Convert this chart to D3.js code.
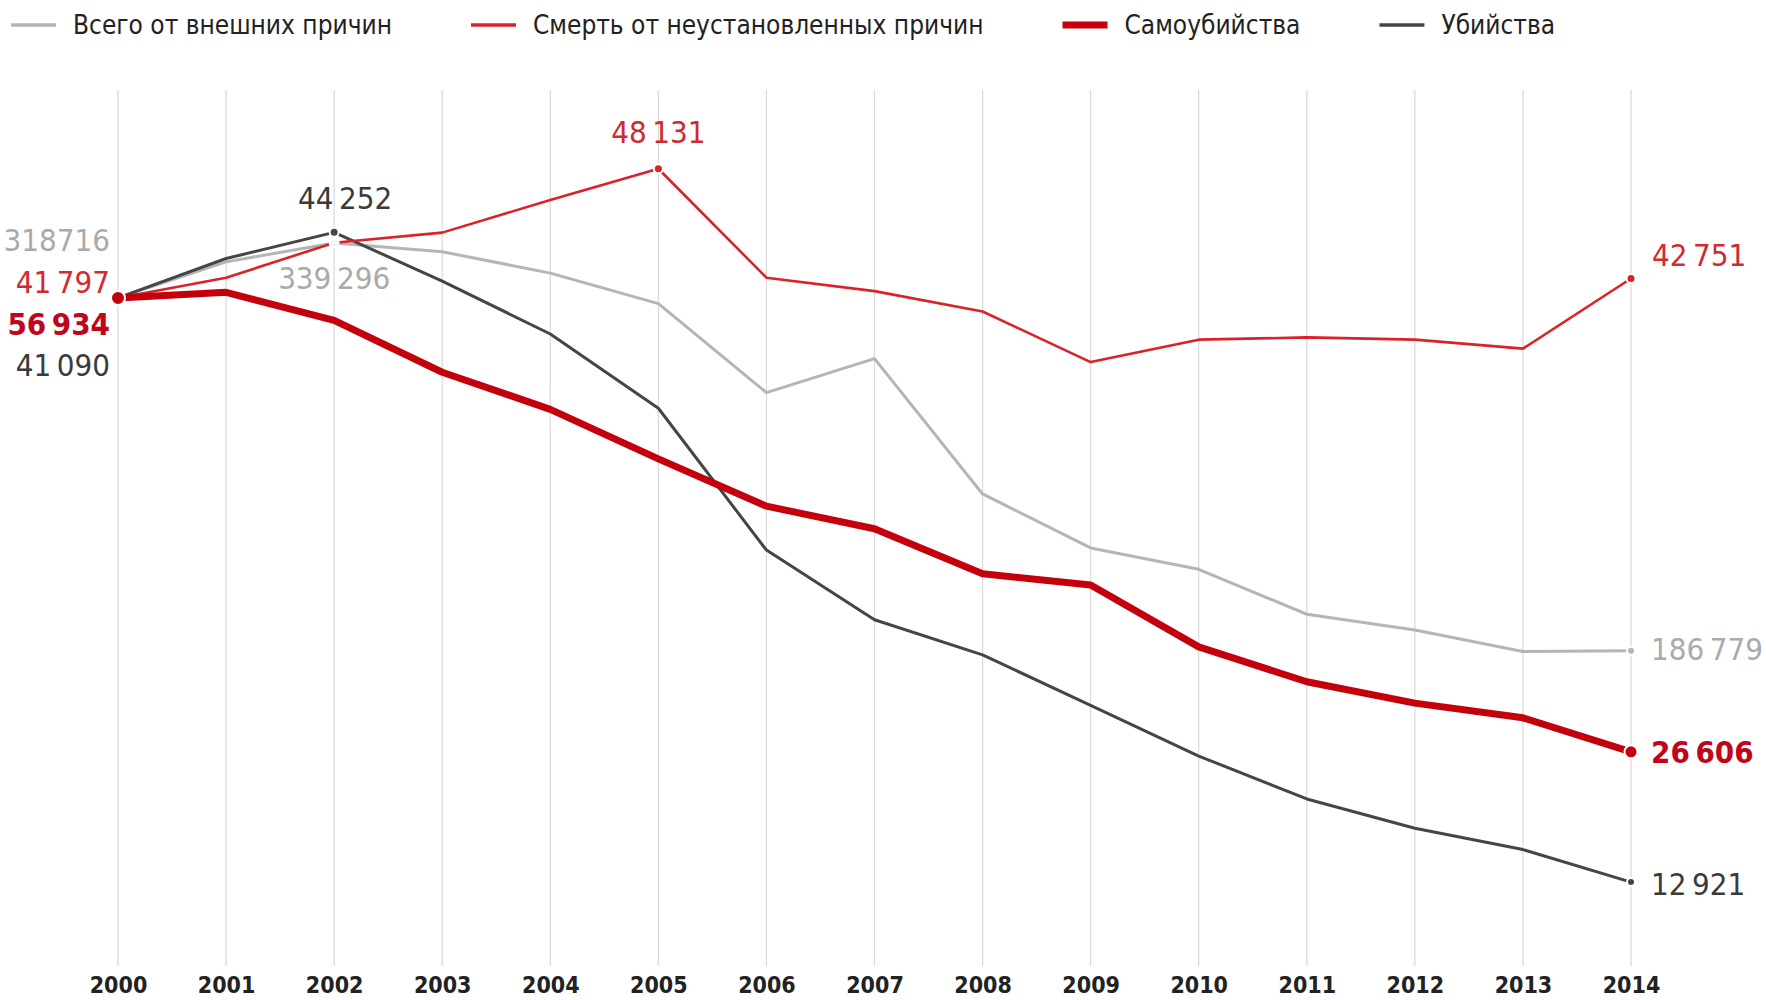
<!DOCTYPE html>
<html>
<head>
<meta charset="utf-8">
<script src="https://cdn.jsdelivr.net/npm/d3@7"></script>
<style>
  body { margin: 0; background: #fff; }
  svg text { font-family: "Liberation Sans Narrow", "DejaVu Sans Condensed", "Roboto", sans-serif; }
</style>
</head>
<body>
<div id="chart"></div>
<script>
// years on the x axis
var years = [2000, 2001, 2002, 2003, 2004, 2005, 2006, 2007, 2008, 2009, 2010, 2011, 2012, 2013, 2014];

// deaths per year (labelled points are exact)
var totalExternal = [318716, 332200, 339296, 336000, 328000, 316600, 283300, 296000, 245400, 225200, 217200, 200400, 194500, 186500, 186779];
var unknownCauses = [41797, 42790, 44500, 45000, 46600, 48131, 42790, 42130, 41130, 38650, 39750, 39860, 39750, 39310, 42751];
var suicides = [56934, 57310, 55430, 51970, 49490, 46180, 43020, 41510, 38510, 37750, 33620, 31290, 29860, 28880, 26606];
var murders = [41090, 42990, 44252, 41900, 39350, 35770, 28930, 25570, 23880, 21440, 19000, 16930, 15520, 14490, 12921];

var seriesNames = ["Всего от внешних причин", "Смерть от неустановленных причин", "Самоубийства", "Убийства"];

var width = 1766, height = 1000;

var series = [
    { name: seriesNames[0], values: totalExternal, color: "#b5b5b5", text: "#aaaaaa", w: 3, weight: "normal" },
    { name: seriesNames[1], values: unknownCauses, color: "#d9222a", text: "#d12a2f", w: 2.6, weight: "normal" },
    { name: seriesNames[2], values: suicides, color: "#c4000c", text: "#c0061a", w: 7, weight: "bold" },
    { name: seriesNames[3], values: murders, color: "#454545", text: "#3a3a3a", w: 3, weight: "normal" }
];

var svg = d3.select("#chart").append("svg")
    .attr("width", width)
    .attr("height", height);

var x = d3.scaleLinear().domain([2000, 2014]).range([118, 1631]);
// values are shown relative to the year 2000
var y = d3.scaleLinear().domain([0.216, 1.244]).range([966, 90]);

// vertical grid
svg.append("g").selectAll("line")
    .data(years)
    .enter().append("line")
    .attr("x1", function(d) { return x(d); })
    .attr("x2", function(d) { return x(d); })
    .attr("y1", y.range()[1])
    .attr("y2", y.range()[0])
    .attr("stroke", "#d9d9d9")
    .attr("stroke-width", 1.2);

var xAxis = svg.append("g")
    .attr("transform", "translate(0," + 985 + ")")
    .call(d3.axisBottom(x).tickValues(years).tickFormat(d3.format("d")).tickSize(0));
xAxis.select(".domain").remove();
xAxis.selectAll("text")
    .attr("y", 0)
    .attr("dy", "0.35em")
    .attr("fill", "#222")
    .style("font-size", "23px")
    .style("font-weight", "bold");

var line = d3.line()
    .x(function(d, i) { return x(years[i]); })
    .y(function(d) { return y(d); });

series.forEach(function(s) {
    s.ratio = s.values.map(function(v) { return v / s.values[0]; });
});

// thick suicide line drawn last so it sits on top
[0, 3, 1, 2].forEach(function(k) {
    var s = series[k];
    svg.append("path")
        .attr("fill", "none")
        .attr("stroke", s.color)
        .attr("stroke-width", s.w)
        .attr("stroke-linejoin", "round")
        .attr("stroke-linecap", "round")
        .attr("d", line(s.ratio));
});

// points that carry a label
var marks = [
    { s: 0, i: 2, r: 4.5, fill: "#f4f4f4" },
    { s: 3, i: 2, r: 4.5 },
    { s: 1, i: 5, r: 4.5 },
    { s: 0, i: 14, r: 4 },
    { s: 1, i: 14, r: 4.5 },
    { s: 2, i: 14, r: 6.5 },
    { s: 3, i: 14, r: 4 },
    { s: 2, i: 0, r: 7 }
];

svg.append("g").selectAll("circle")
    .data(marks)
    .enter().append("circle")
    .attr("cx", function(m) { return x(years[m.i]); })
    .attr("cy", function(m) { return y(series[m.s].ratio[m.i]); })
    .attr("r", function(m) { return m.r; })
    .attr("fill", function(m) { return m.fill || series[m.s].color; })
    .attr("stroke", "#fff")
    .attr("stroke-width", 2);

var fmt = d3.formatLocale({ decimal: ",", thousands: "\u2009", grouping: [3], currency: ["", ""] }).format(",d");

var labels = [
    { s: 0, i: 0, dx: -8, dy: -58, anchor: "end", plain: true },
    { s: 1, i: 0, dx: -8, dy: -16, anchor: "end" },
    { s: 2, i: 0, dx: -8, dy: 26, anchor: "end" },
    { s: 3, i: 0, dx: -8, dy: 67, anchor: "end" },
    { s: 3, i: 2, dx: 11, dy: -35, anchor: "middle" },
    { s: 0, i: 2, dx: 0, dy: 35, anchor: "middle" },
    { s: 1, i: 5, dx: 0, dy: -37, anchor: "middle" },
    { s: 1, i: 14, dx: 21, dy: -24, anchor: "start" },
    { s: 0, i: 14, dx: 20, dy: -2, anchor: "start" },
    { s: 2, i: 14, dx: 20, dy: 0, anchor: "start" },
    { s: 3, i: 14, dx: 20, dy: 2, anchor: "start" }
];

svg.append("g").selectAll("text")
    .data(labels)
    .enter().append("text")
    .attr("x", function(l) { return x(years[l.i]) + l.dx; })
    .attr("y", function(l) { return y(series[l.s].ratio[l.i]) + l.dy; })
    .attr("dy", "0.36em")
    .attr("text-anchor", function(l) { return l.anchor; })
    .attr("fill", function(l) { return series[l.s].text; })
    .style("font-size", "31px")
    .style("font-weight", function(l) { return series[l.s].weight; })
    .text(function(l) {
        var v = series[l.s].values[l.i];
        return l.plain ? String(v) : fmt(v);
    });

// legend
var legend = svg.append("g").attr("transform", "translate(11,25)");
var lx = 0;
series.forEach(function(s) {
    var item = legend.append("g").attr("transform", "translate(" + lx + ",0)");
    item.append("line")
        .attr("x1", 0).attr("x2", 45)
        .attr("stroke", s.color)
        .attr("stroke-width", s.w === 7 ? 7 : 3.5);
    var t = item.append("text")
        .attr("x", 62)
        .attr("dy", "0.35em")
        .attr("fill", "#222")
        .style("font-size", "26px")
        .text(s.name);
    lx += 62 + t.node().getComputedTextLength() + 79;
});
</script>
</body>
</html>
